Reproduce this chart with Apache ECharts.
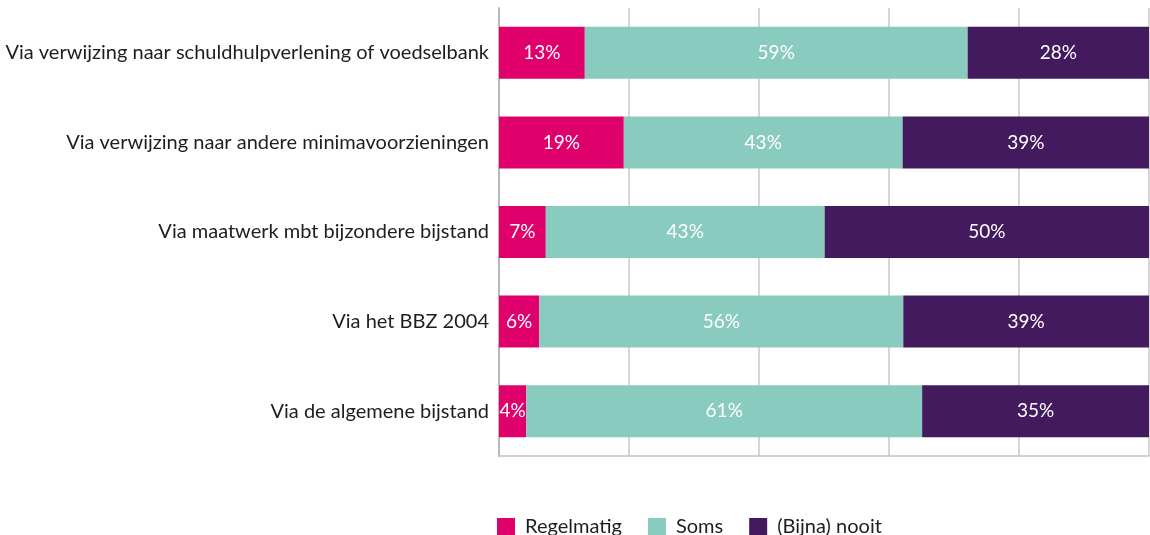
<!DOCTYPE html>
<html>
<head>
<meta charset="utf-8">
<script src="https://cdn.jsdelivr.net/npm/echarts@6/dist/echarts.min.js"></script>
<style>
  html, body { margin: 0; padding: 0; background: #fff; }
  #chart { width: 1150px; height: 535px; }
</style>
</head>
<body>
<div id="chart"></div>
<script>
// categorieen (van boven naar beneden)
var categories = [
  'Via verwijzing naar schuldhulpverlening of voedselbank',
  'Via verwijzing naar andere minimavoorzieningen',
  'Via maatwerk mbt bijzondere bijstand',
  'Via het BBZ 2004',
  'Via de algemene bijstand'
];
var regelmatig = [13.2, 19.2, 7.2, 6.2, 4.2];
var soms = [58.9, 42.9, 42.9, 56.0, 60.9];
var nooit = [27.9, 37.9, 49.9, 37.8, 34.9];
// labels zoals afgedrukt
var regelmatigLabels = ['13%', '19%', '7%', '6%', '4%'];
var somsLabels = ['59%', '43%', '43%', '56%', '61%'];
var nooitLabels = ['28%', '39%', '50%', '39%', '35%'];

var fontFam = 'Lato, "Noto Sans", sans-serif';

var chart = echarts.init(document.getElementById('chart'));

function makeSeries(name, data, labels, color) {
  return {
    name: name,
    type: 'bar',
    stack: 'totaal',
    barWidth: 52,
    data: data,
    itemStyle: { color: color },
    label: {
      show: true,
      position: 'inside',
      color: '#fff',
      fontSize: 19,
      fontFamily: fontFam,
      formatter: function (p) { return labels[p.dataIndex]; }
    }
  };
}

chart.setOption({
  animation: false,
  grid: { left: 499, right: 1, top: 8, bottom: 79, containLabel: false },
  legend: {
    top: 512,
    left: 492,
    itemWidth: 18,
    itemHeight: 18,
    itemGap: 26,
    icon: 'rect',
    textStyle: { color: '#1e1e1e', fontSize: 20, fontFamily: fontFam, padding: [0, 0, 0, 5] },
    data: ['Regelmatig', 'Soms', '(Bijna) nooit']
  },
  xAxis: {
    type: 'value',
    min: 0,
    max: 100,
    interval: 20,
    axisLabel: { show: false },
    axisTick: { show: false },
    axisLine: { show: true, lineStyle: { color: '#c4c4c4', width: 1.5 } },
    splitLine: { show: true, lineStyle: { color: '#c8c8c8', width: 1.5 } }
  },
  yAxis: {
    type: 'category',
    inverse: true,
    data: categories,
    axisTick: { show: false },
    axisLine: { show: true, lineStyle: { color: '#b8b8b8', width: 2 } },
    axisLabel: { color: '#1e1e1e', fontSize: 20, fontFamily: fontFam, margin: 10 }
  },
  series: [
    makeSeries('Regelmatig', regelmatig, regelmatigLabels, '#e0006b'),
    makeSeries('Soms', soms, somsLabels, '#89cbbf'),
    makeSeries('(Bijna) nooit', nooit, nooitLabels, '#431a5e')
  ]
});
</script>
</body>
</html>
